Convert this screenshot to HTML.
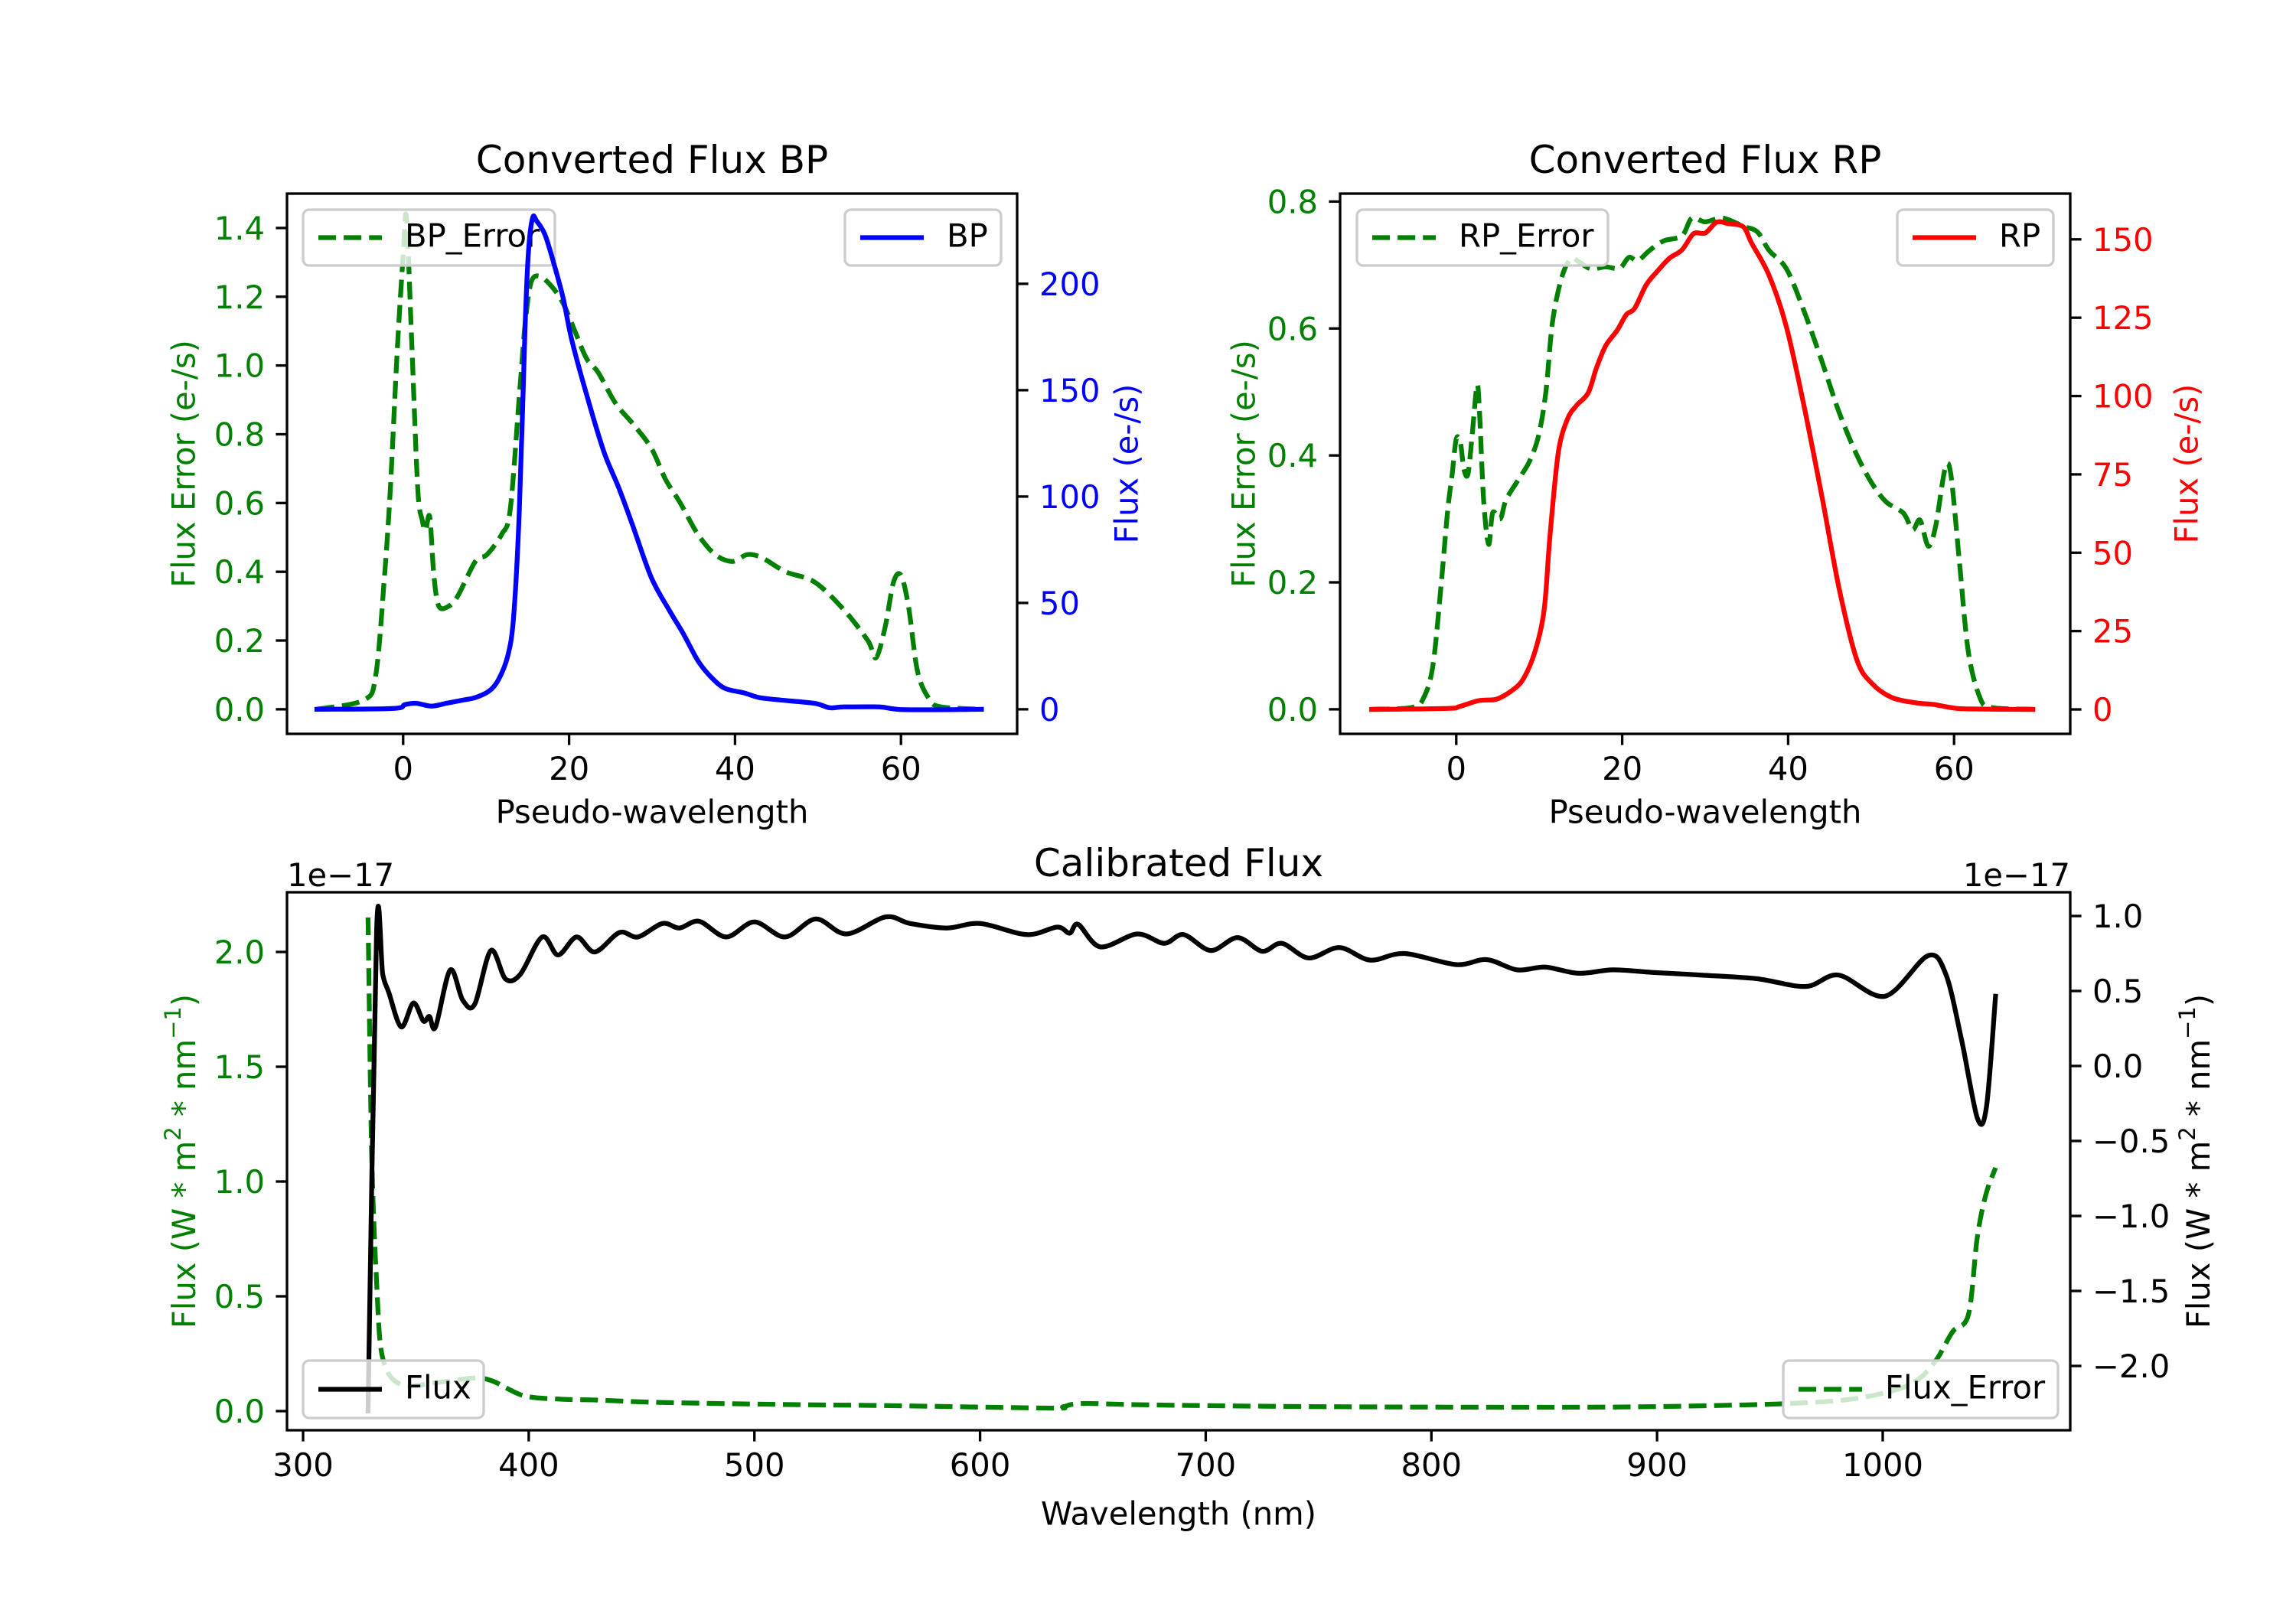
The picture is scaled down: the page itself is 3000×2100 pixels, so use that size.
<!DOCTYPE html>
<html><head><meta charset="utf-8">
<style>
html,body{margin:0;padding:0;background:#fff;}
svg{display:block;}
text{font-family:"DejaVu Sans","Liberation Sans",sans-serif;}
</style></head>
<body>
<svg id="fig" width="3000" height="2100" viewBox="0 0 3000 2100" xmlns="http://www.w3.org/2000/svg">
<rect width="3000" height="2100" fill="#fff"/>
</svg>
<script>
// ---- BP panel data ----
const bpErrX = [-10.4,-4.7,-3.3,-2.3,-1.55,-0.7,0,0.4,1.06,1.76,2.3,2.7,3.2,3.7,4.3,5.5,6.6,8.7,10.1,11.9,12.9,14,14.7,15.4,16.4,17.9,19.3,20.7,22.1,23.5,25.6,27.7,29.9,31.6,33.4,35.5,37.6,39.7,41.5,43.3,46.1,49.6,53.1,56,57,58.1,59.1,60,60.9,62,63.4,64.8,69.7];
const bpErrY = [0,0.027,0.1,0.37,0.64,1.05,1.32,1.43,1.05,0.64,0.55,0.52,0.56,0.39,0.30,0.30,0.33,0.43,0.45,0.51,0.58,0.91,1.12,1.24,1.26,1.23,1.18,1.10,1.02,0.98,0.89,0.83,0.76,0.67,0.60,0.51,0.45,0.43,0.45,0.44,0.40,0.37,0.29,0.20,0.15,0.24,0.37,0.39,0.30,0.11,0.03,0.007,0];
const bpX = [-10.4,-1.2,0.2,1.6,3.4,5.2,7.3,8.7,10.4,11.5,12.6,13.3,14,14.7,15.1,15.6,16.1,17.1,18.2,19.3,20.3,22.1,24.2,26,27.7,29.9,32,33.7,35.5,36.9,38.7,41.1,42.9,45.4,49.6,51.4,53.1,57.4,60.5,69.7];
const bpY = [0,0.4,2.2,2.8,1.5,2.8,4.4,5.5,8.7,14,25,43,93,180,215,231,229.5,223,209,193,174,148,121,104,86,62,47,36,23,16,10,7.7,5.5,4.4,2.8,0.7,1.1,1.1,-0.2,0];
const bpXTicks = [0,20,40,60];
const bpErrTicks = [0.0,0.2,0.4,0.6,0.8,1.0,1.2,1.4];
const bpTicks = [0,50,100,150,200];
// ---- RP panel data ----
const rpErrX = [-10.2,-5.3,-3.9,-2.8,-1.8,-1.06,-0.5,0,0.5,0.9,1.4,1.9,2.5,2.8,3.3,3.9,4.4,5.3,6,7.4,8.8,9.9,10.8,11.6,12.7,13.8,14.8,16.2,18,19.7,20.8,21.9,23.3,25,27.2,28.4,30,32.1,34.6,36.3,37.7,39.8,41.9,44.1,46.2,48.3,50.1,51.8,53.9,55,55.9,56.9,57.8,58.9,59.6,60.6,61.7,63.1,64.5,69.5];
const rpErrY = [0,0.003,0.019,0.07,0.2,0.31,0.37,0.426,0.42,0.38,0.37,0.43,0.51,0.47,0.33,0.26,0.31,0.30,0.33,0.36,0.39,0.43,0.50,0.61,0.68,0.71,0.705,0.694,0.697,0.695,0.712,0.707,0.723,0.738,0.746,0.774,0.768,0.774,0.761,0.752,0.723,0.694,0.628,0.547,0.466,0.40,0.356,0.327,0.309,0.283,0.298,0.257,0.29,0.378,0.371,0.239,0.092,0.019,0.003,0];
const rpX = [-10.2,-1.06,0.35,2.5,3.5,4.9,6.7,8.1,9.5,10.6,11.3,12.3,13.4,14.5,15.9,16.9,18,19.4,20.5,21.5,22.9,24.3,25.7,27.2,28.6,30,31.4,32.8,34.6,35.6,37.7,39.8,41.9,44.1,46.2,48.3,50.1,52.5,55.4,57.5,59.6,61.7,69.5];
const rpY = [0,0.3,0.9,2.7,3,3.3,6,9.8,18.6,32,55.6,82,92.6,97,101,109,116,121,126,128,135.5,140,144,146.6,151.8,152,155.5,155,154,148.8,138.5,122,97,67.5,37.9,15.7,8.3,3.8,2.1,1.6,0.6,0.15,0];
const rpXTicks = [0,20,40,60];
const rpErrTicks = [0.0,0.2,0.4,0.6,0.8];
const rpTicks = [0,25,50,75,100,125,150];
// ---- Calibrated panel data ----
const calW = [328.8,332.6,335.3,338,343.5,348.9,353.3,356,358.7,365.2,370.7,376,383.2,389.7,396.2,406,413,421.2,429.3,440.2,448.4,459.2,466.8,475.5,487.5,500,513.6,527.2,540.8,558.2,569,585.3,600,620.7,634.2,639.7,643.5,653.3,669.6,681.5,690.2,702.2,714.1,725,733.7,745.6,759.2,772.8,788,810.9,824.5,838,850.5,865.2,880.4,897.8,919.6,944,965.8,980.4,1001,1020,1028,1035,1042,1046,1050];
const calFlux = [-2.3,0.906,0.61,0.49,0.26,0.42,0.30,0.33,0.26,0.64,0.44,0.41,0.77,0.58,0.61,0.86,0.74,0.86,0.76,0.89,0.86,0.95,0.92,0.965,0.86,0.96,0.86,0.98,0.88,0.994,0.95,0.92,0.95,0.876,0.926,0.885,0.944,0.794,0.88,0.818,0.876,0.77,0.856,0.765,0.818,0.72,0.79,0.706,0.75,0.676,0.709,0.641,0.659,0.618,0.641,0.624,0.606,0.582,0.53,0.606,0.465,0.735,0.61,0.17,-0.35,-0.27,0.465];
const errW = [328.8,330.4,332.6,335.3,343.5,359.8,376,384.2,397.8,414,430.4,457.6,512,566,631.5,636.9,645.1,675,756.5,865.2,919.6,963,990.2,1011.9,1022.8,1031,1038,1041.8,1045.6,1050];
const calErr = [2.15,1.13,0.56,0.23,0.115,0.125,0.144,0.13,0.067,0.052,0.048,0.038,0.029,0.023,0.013,0.019,0.033,0.027,0.019,0.017,0.023,0.035,0.058,0.115,0.21,0.346,0.42,0.75,0.94,1.06];
const calXTicks = [300,400,500,600,700,800,900,1000];
const calErrTicks = [0.0,0.5,1.0,1.5,2.0];
const calFluxTicks = [-2.0,-1.5,-1.0,-0.5,0.0,0.5,1.0];

const NS = 'http://www.w3.org/2000/svg';
const svg = document.getElementById('fig');
const FS = 41.7, LW = 6.25, SW = 3.3, TL = 14.6;
function el(tag, attrs, parent, txt){
  const e = document.createElementNS(NS, tag);
  for (const k in attrs) e.setAttribute(k, attrs[k]);
  if (txt !== undefined) e.textContent = txt;
  (parent||svg).appendChild(e);
  return e;
}
function lin(d0,d1,p0,p1){ return v => p0 + (v-d0)*(p1-p0)/(d1-d0); }
function fmt(v, dec){ return (v<0?'\u2212':'') + Math.abs(v).toFixed(dec); }
function pathFor(xs, ys, sx, sy){
  const P = xs.map((x,i)=>[sx(x), sy(ys[i])]);
  let d = 'M'+P[0][0].toFixed(1)+','+P[0][1].toFixed(1);
  const k = 0.16;
  for (let i=0;i<P.length-1;i++){
    const p0 = P[Math.max(0,i-1)], p1 = P[i], p2 = P[i+1], p3 = P[Math.min(P.length-1,i+2)];
    const c1 = [p1[0]+(p2[0]-p0[0])*k, p1[1]+(p2[1]-p0[1])*k];
    const c2 = [p2[0]-(p3[0]-p1[0])*k, p2[1]-(p3[1]-p1[1])*k];
    d += ' C'+c1[0].toFixed(1)+','+c1[1].toFixed(1)+' '+c2[0].toFixed(1)+','+c2[1].toFixed(1)+' '+p2[0].toFixed(1)+','+p2[1].toFixed(1);
  }
  return d;
}
function line(xs, ys, sx, sy, color, dashed, name, clip){
  const p = el('path', {d:pathFor(xs,ys,sx,sy), fill:'none', stroke:color, 'stroke-width':LW,
    'stroke-linejoin':'round', 'stroke-linecap':dashed?'butt':'square', 'clip-path':'url(#'+clip+')'});
  if (dashed) p.setAttribute('stroke-dasharray','23.1 10');
  
  
  return p;
}
function legend(x, y, w, h, color, dashed, label, name){
  const g = el('g', {});
  
  
  el('rect', {x:x, y:y, width:w, height:h, rx:8, fill:'rgba(255,255,255,0.8)', stroke:'#cccccc', 'stroke-width':3.3}, g);
  const ly = y + h/2;
  const l = el('line', {x1:x+20, x2:x+103, y1:ly, y2:ly, stroke:color, 'stroke-width':LW}, g);
  if (dashed) l.setAttribute('stroke-dasharray','23.1 10');
  el('text', {x:x+133, y:ly+12, 'font-size':FS, fill:'#000'}, g, label);
}
function yTicks(ticks, sy, xAxis, side, color, dec, name){
  const g = el('g', {});
  
  
  ticks.forEach(t=>{
    const y = sy(t);
    const x2 = side==='left' ? xAxis-TL : xAxis+TL;
    el('line', {x1:xAxis, x2:x2, y1:y, y2:y, stroke:'#000', 'stroke-width':SW}, g);
    el('text', {x: side==='left'? xAxis-29 : xAxis+29, y:y+15, 'font-size':FS, fill:color, 'text-anchor':side==='left'?'end':'start'}, g, fmt(t,dec));
  });
}
function xTicks(ticks, sx, yAxis, name){
  const g = el('g', {});
  
  
  ticks.forEach(t=>{
    const x = sx(t);
    el('line', {x1:x, x2:x, y1:yAxis, y2:yAxis+TL, stroke:'#000', 'stroke-width':SW}, g);
    el('text', {x:x, y:yAxis+60, 'font-size':FS, fill:'#000', 'text-anchor':'middle'}, g, String(t));
  });
}
function frame(L,T,R,B,name,clip){
  const defs = el('defs', {});
  const cp = el('clipPath', {id:clip}, defs);
  el('rect', {x:L, y:T, width:R-L, height:B-T}, cp);
  const r = el('rect', {x:L, y:T, width:R-L, height:B-T, fill:'none', stroke:'#000', 'stroke-width':SW});
  
  
}
function label(x, y, txt, color, size, rot, name){
  const t = el('text', {x:x, y:y, 'font-size':size, fill:color, 'text-anchor':'middle', 'dominant-baseline':'central'}, svg, txt);
  if (rot) t.setAttribute('transform', 'rotate('+rot+' '+x+' '+y+')');
  
  
  return t;
}

// ===== BP panel =====
(function(){
  const L=375,R=1329,T=253,B=959;
  const sx = lin(-14, 74, L, R);
  const sy1 = lin(-0.0715, 1.5, B, T);
  const sy2 = lin(-11.55, 242.4, B, T);
  frame(L,T,R,B,'bp-axes-frame','clipbp');
  line(bpErrX, bpErrY, sx, sy1, '#008000', true, 'bp-error-line', 'clipbp');
  legend(396, 274, 329, 73, '#008000', true, 'BP_Error', 'bp-error-legend');
  line(bpX, bpY, sx, sy2, '#0000ff', false, 'bp-flux-line', 'clipbp');
  legend(1104, 274, 204, 73, '#0000ff', false, 'BP', 'bp-legend');
  yTicks(bpErrTicks, sy1, L, 'left', '#008000', 1, 'bp-left-y-ticks');
  yTicks(bpTicks, sy2, R, 'right', '#0000ff', 0, 'bp-right-y-ticks');
  xTicks(bpXTicks, sx, B, 'bp-x-ticks');
  label((L+R)/2, 209, 'Converted Flux BP', '#000', 50, 0, 'bp-title');
  label((L+R)/2, 1061, 'Pseudo-wavelength', '#000', FS, 0, 'bp-x-axis-title');
  label(240, (T+B)/2, 'Flux Error (e-/s)', '#008000', FS, -90, 'bp-left-y-axis-title');
  label(1472, (T+B)/2, 'Flux (e-/s)', '#0000ff', FS, -90, 'bp-right-y-axis-title');
})();

// ===== RP panel =====
(function(){
  const L=1751,R=2705,T=253,B=959;
  const sx = lin(-14, 74, L, R);
  const sy1 = lin(-0.0387, 0.8125, B, T);
  const sy2 = lin(-7.8, 164.6, B, T);
  frame(L,T,R,B,'rp-axes-frame','cliprp');
  line(rpErrX, rpErrY, sx, sy1, '#008000', true, 'rp-error-line', 'cliprp');
  legend(1773, 274, 328, 73, '#008000', true, 'RP_Error', 'rp-error-legend');
  line(rpX, rpY, sx, sy2, '#ff0000', false, 'rp-flux-line', 'cliprp');
  legend(2479, 274, 204, 73, '#ff0000', false, 'RP', 'rp-legend');
  yTicks(rpErrTicks, sy1, L, 'left', '#008000', 1, 'rp-left-y-ticks');
  yTicks(rpTicks, sy2, R, 'right', '#ff0000', 0, 'rp-right-y-ticks');
  xTicks(rpXTicks, sx, B, 'rp-x-ticks');
  label((L+R)/2, 209, 'Converted Flux RP', '#000', 50, 0, 'rp-title');
  label((L+R)/2, 1061, 'Pseudo-wavelength', '#000', FS, 0, 'rp-x-axis-title');
  label(1625, (T+B)/2, 'Flux Error (e-/s)', '#008000', FS, -90, 'rp-left-y-axis-title');
  label(2857, (T+B)/2, 'Flux (e-/s)', '#ff0000', FS, -90, 'rp-right-y-axis-title');
})();

// ===== Calibrated panel =====
(function(){
  const L=375,R=2705,T=1166,B=1869;
  const sx = lin(300, 1000, 396, 2460);
  const sy1 = lin(0, 2.0, 1844, 1244);
  const sy2 = lin(0, 1.0, 1393, 1197);
  frame(L,T,R,B,'calibrated-axes-frame','clipcal');
  line(errW, calErr, sx, sy1, '#008000', true, 'flux-error-line', 'clipcal');
  legend(2330, 1778, 359, 75, '#008000', true, 'Flux_Error', 'flux-error-legend');
  line(calW, calFlux, sx, sy2, '#000000', false, 'flux-line', 'clipcal');
  legend(396, 1778, 236, 75, '#000000', false, 'Flux', 'flux-legend');
  yTicks(calErrTicks, sy1, L, 'left', '#008000', 1, 'cal-left-y-ticks');
  yTicks(calFluxTicks, sy2, R, 'right', '#000', 1, 'cal-right-y-ticks');
  xTicks(calXTicks, sx, B, 'cal-x-ticks');
  label((L+R)/2, 1128, 'Calibrated Flux', '#000', 50, 0, 'calibrated-title');
  label((L+R)/2, 1978, 'Wavelength (nm)', '#000', FS, 0, 'cal-x-axis-title');
  const o1 = el('text', {x:L, y:1158, 'font-size':FS, fill:'#000'}, svg, '1e\u221217');
  
  
  const o2 = el('text', {x:R, y:1158, 'font-size':FS, fill:'#000', 'text-anchor':'end'}, svg, '1e\u221217');
  
  
  [[240,'#008000','cal-left-y-axis-title'],[2872,'#000','cal-right-y-axis-title']].forEach(a=>{
    const cx=a[0], cy=(T+B)/2;
    const t = el('text', {x:cx, y:cy, 'font-size':FS, fill:a[1], 'text-anchor':'middle', 'dominant-baseline':'central', transform:'rotate(-90 '+cx+' '+cy+')'});
    
    
    el('tspan', {}, t, 'Flux (W * m');
    el('tspan', {'font-size':29, dy:-14}, t, '2');
    el('tspan', {dy:14}, t, ' * nm');
    el('tspan', {'font-size':29, dy:-14}, t, '\u22121');
    el('tspan', {dy:14}, t, ')');
  });
})();
</script>
</body></html>
